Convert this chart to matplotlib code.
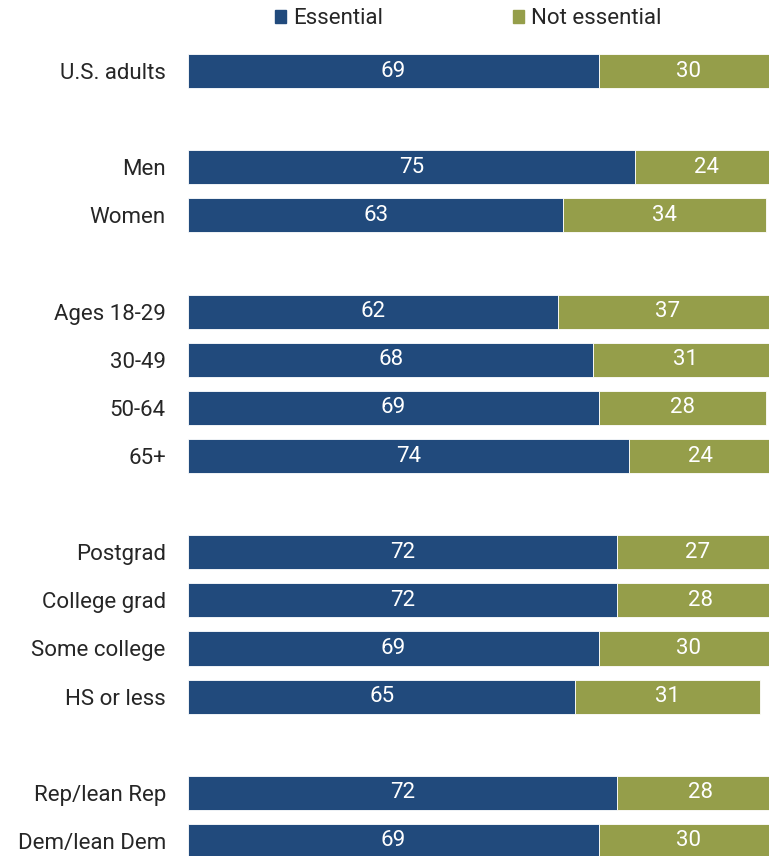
import matplotlib
matplotlib.use("Agg")
import matplotlib.pyplot as plt
from matplotlib.patches import Patch

groups = ["U.S. adults", "Men", "Women", "Ages 18-29", "30-49", "50-64", "65+",
          "Postgrad", "College grad", "Some college", "HS or less",
          "Rep/lean Rep", "Dem/lean Dem"]
essential = [69, 75, 63, 62, 68, 69, 74, 72, 72, 69, 65, 72, 69]
not_essential = [30, 24, 34, 37, 31, 28, 24, 27, 28, 30, 31, 28, 30]
# row slots, with a blank slot between demographic blocks
rows = [0, 2, 3, 5, 6, 7, 8, 10, 11, 12, 13, 15, 16]

BLUE = "#214A7C"
OLIVE = "#959E4A"
plt.rcParams["font.family"] = ["Roboto", "DejaVu Sans"]
FS = 16

W, H = 769, 856
fig = plt.figure(figsize=(W / 100, H / 100), dpi=100)
ax = fig.add_axes([188 / W, (856 - 865) / H, 596 / W, 818 / H])

b1 = ax.barh(rows, essential, height=0.71, color=BLUE, edgecolor="white", linewidth=0.6)
b2 = ax.barh(rows, not_essential, left=essential, height=0.71, color=OLIVE,
             edgecolor="white", linewidth=0.6)
ax.bar_label(b1, label_type="center", color="white", fontsize=FS)
ax.bar_label(b2, label_type="center", color="white", fontsize=FS)

ax.set_xlim(0, 100)
ax.set_ylim(16.5, -0.5)
ax.set_yticks(rows)
ax.set_yticklabels(groups, fontsize=FS, color="#262626")
ax.tick_params(axis="y", length=0, pad=16)
ax.set_xticks([])
for s in ax.spines.values():
    s.set_visible(False)

handles = [Patch(color=BLUE, label="Essential"), Patch(color=OLIVE, label="Not essential")]
leg = fig.legend(handles=handles, loc="center", bbox_to_anchor=(468 / W, 1 - 19 / H),
                 ncol=2, frameon=False, fontsize=FS, handlelength=0.5, handleheight=0.5,
                 handletextpad=0.3, columnspacing=5.85)
for t in leg.get_texts():
    t.set_color("#262626")

fig.savefig("out.png", dpi=100)
